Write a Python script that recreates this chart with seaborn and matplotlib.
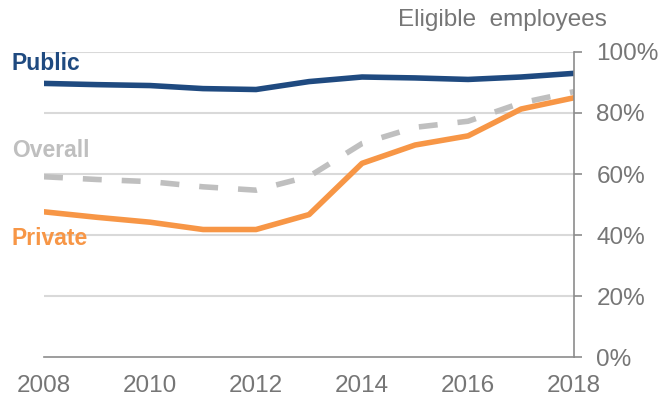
import pandas as pd
import seaborn as sns
import matplotlib.pyplot as plt
from matplotlib.ticker import PercentFormatter

years = list(range(2008, 2019))
public = [89.7, 89.3, 89.0, 88.0, 87.7, 90.3, 91.8, 91.5, 91.0, 91.8, 93.0]
overall = [59.1, 58.2, 57.5, 55.8, 54.7, 59.2, 70.0, 75.3, 77.3, 83.3, 87.0]
private = [47.6, 45.8, 44.2, 41.8, 41.8, 46.7, 63.5, 69.5, 72.5, 81.3, 85.0]

blue = "#1F4A80"
grey = "#BFBFBF"
orange = "#F79646"
text_grey = "#767676"

sns.set_style("white")
plt.rcParams["font.family"] = ["Liberation Sans", "DejaVu Sans"]

fig = plt.figure(figsize=(6.63, 4.04), dpi=100)
ax = fig.add_axes([0.0664, 0.1163, 0.7995, 0.755])

df = pd.DataFrame({"year": years, "Public": public, "Overall": overall, "Private": private})

sns.lineplot(data=df, x="year", y="Overall", ax=ax, color=grey, linewidth=4,
             linestyle=(0, (3.4, 3.6)))
sns.lineplot(data=df, x="year", y="Private", ax=ax, color=orange, linewidth=4)
sns.lineplot(data=df, x="year", y="Public", ax=ax, color=blue, linewidth=4)

ax.set_xlim(2008, 2018)
ax.set_ylim(0, 100)
ax.set_xticks(range(2008, 2019, 2))
ax.set_yticks(range(0, 101, 20))
ax.yaxis.set_major_formatter(PercentFormatter(decimals=0))
ax.yaxis.tick_right()
ax.set_xlabel("")
ax.set_ylabel("")

for y in range(20, 101, 20):
    ax.axhline(y, color="#D9D9D9", linewidth=1.5, zorder=0)

for s in ["left", "top"]:
    ax.spines[s].set_visible(False)
for s in ["right", "bottom"]:
    ax.spines[s].set_color("#8C8C8C")
    ax.spines[s].set_linewidth(1.2)

ax.tick_params(axis="both", direction="out", length=6, width=1.2, color="#8C8C8C",
               labelcolor=text_grey, labelsize=17.5)
ax.tick_params(axis="y", pad=10)
ax.tick_params(axis="x", pad=7)

fig.text(0.6, 0.95, "Eligible  employees", color=text_grey, fontsize=17.5, ha="left", va="center")
fig.text(0.018, 0.843, "Public", color=blue, fontsize=16.5, fontweight="bold", va="center")
fig.text(0.018, 0.628, "Overall", color=grey, fontsize=16.5, fontweight="bold", va="center")
fig.text(0.018, 0.41, "Private", color=orange, fontsize=16.5, fontweight="bold", va="center")

plt.savefig("out.png", dpi=100)
